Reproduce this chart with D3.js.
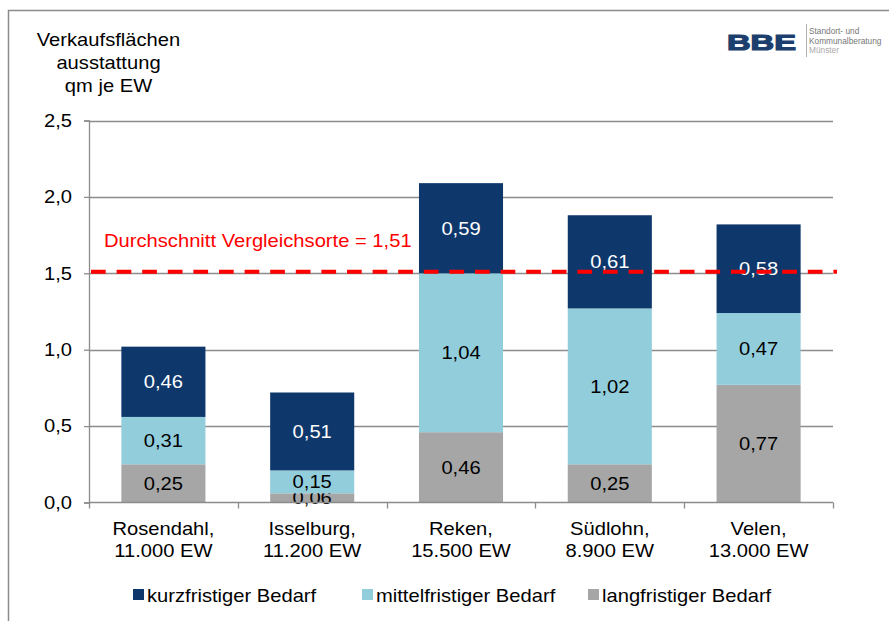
<!DOCTYPE html>
<html>
<head>
<meta charset="utf-8">
<script src="https://cdn.jsdelivr.net/npm/d3@7/dist/d3.min.js"></script>
<style>
  body { margin: 0; background: #fff; }
  text { font-family: "Liberation Sans", Arial, sans-serif; }
</style>
</head>
<body>
<script>
// categories (two line labels)
const orte = ["Rosendahl,|11.000 EW", "Isselburg,|11.200 EW", "Reken,|15.500 EW", "Südlohn,|8.900 EW", "Velen,|13.000 EW"];
const langfristig = [0.25, 0.06, 0.46, 0.25, 0.77];
const mittelfristig = [0.31, 0.15, 1.04, 1.02, 0.47];
const kurzfristig = [0.46, 0.51, 0.59, 0.61, 0.58];
const serien = ["langfristiger Bedarf", "mittelfristiger Bedarf", "kurzfristiger Bedarf"];
const legendeReihenfolge = ["kurzfristiger Bedarf", "mittelfristiger Bedarf", "langfristiger Bedarf"];
const yTicks = [0, 0.5, 1.0, 1.5, 2.0, 2.5];
const durchschnitt = 1.51;

const w = 889, h = 621;
const fs = 18, sx = 1.12;   // text in the reference is a bit stretched
const farben = {
  "langfristiger Bedarf": "#a6a6a6",
  "mittelfristiger Bedarf": "#92cddc",
  "kurzfristiger Bedarf": "#0e386c"
};
const textFarbe = {
  "langfristiger Bedarf": "#000",
  "mittelfristiger Bedarf": "#000",
  "kurzfristiger Bedarf": "#fff"
};

let svg = d3.select("body").append("svg")
  .attr("width", w).attr("height", h);

// helper: stretched text
function txt(g, x, y, s, anchor, farbe) {
  return g.append("text")
    .attr("transform", `translate(${x},${y}) scale(${sx},1)`)
    .attr("text-anchor", anchor || "start")
    .attr("font-size", fs)
    .attr("fill", farbe || "#000")
    .text(s);
}

// frame
svg.append("path")
  .attr("d", "M8.5,621 V10.5 H889")
  .attr("fill", "none").attr("stroke", "#8c8c8c").attr("stroke-width", 1.5);

const x0 = 89, x1 = 833, yTop = 120.5, yBot = 502.5;

let xScale = d3.scaleBand()
  .domain(d3.range(orte.length))
  .range([x0, x1])
  .paddingInner(0.435)
  .paddingOuter(0.2175);

let yScale = d3.scaleLinear()
  .domain([0, 2.5])
  .range([yBot, yTop]);

// gridlines
svg.append("g").selectAll("line")
  .data(yTicks.filter(d => d > 0))
  .enter().append("line")
  .attr("x1", x0).attr("x2", x1)
  .attr("y1", d => Math.round(yScale(d)) + 0.5)
  .attr("y2", d => Math.round(yScale(d)) + 0.5)
  .attr("stroke", "#8c8c8c").attr("stroke-width", 1.3);

// y axis
let yAxis = d3.axisLeft(yScale)
  .tickValues(yTicks)
  .tickSize(5)
  .tickPadding(10.2)
  .tickFormat(d => d3.format(".1f")(d).replace(".", ","));
let gy = svg.append("g").attr("transform", `translate(${x0},0)`).call(yAxis);
gy.select(".domain").attr("stroke", "#8c8c8c").attr("stroke-width", 1.3);
gy.selectAll(".tick line").attr("stroke", "#8c8c8c").attr("stroke-width", 1.3);
gy.selectAll(".tick text").attr("font-size", fs).attr("fill", "#000")
  .attr("transform", `scale(${sx},1)`)
  .style("font-family", '"Liberation Sans", Arial, sans-serif');

// stacked data
let tabelle = orte.map((o, i) => ({
  ort: i,
  "langfristiger Bedarf": langfristig[i],
  "mittelfristiger Bedarf": mittelfristig[i],
  "kurzfristiger Bedarf": kurzfristig[i]
}));
let stack = d3.stack().keys(serien)(tabelle);

let layers = svg.append("g").selectAll("g")
  .data(stack)
  .enter().append("g")
  .attr("fill", d => farben[d.key]);

layers.selectAll("rect")
  .data(d => d)
  .enter().append("rect")
  .attr("x", d => xScale(d.data.ort))
  .attr("width", xScale.bandwidth())
  .attr("y", d => yScale(d[1]))
  .attr("height", d => yScale(d[0]) - yScale(d[1]));

// x axis
let xAxis = d3.axisBottom(xScale).tickSize(0).tickFormat("");
let gx = svg.append("g").attr("transform", `translate(0,${yBot})`).call(xAxis);
gx.select(".domain").attr("stroke", "#8c8c8c").attr("stroke-width", 1.3).attr("d", `M${x0},0H${x1}`);
// category separators
let grenzen = d3.range(orte.length + 1).map(i => x0 + i * (x1 - x0) / orte.length);
gx.selectAll(".sep").data(grenzen).enter().append("line")
  .attr("x1", d => Math.round(d) + 0.5).attr("x2", d => Math.round(d) + 0.5)
  .attr("y1", 0).attr("y2", 6)
  .attr("stroke", "#8c8c8c").attr("stroke-width", 1.3);

// category labels
let katG = svg.append("g");
orte.forEach((d, i) => {
  d.split("|").forEach((zeile, k) => {
    txt(katG, xScale(i) + xScale.bandwidth() / 2, 534.5 + k * 22.5, zeile, "middle");
  });
});

// average line
svg.append("line")
  .attr("x1", x0 + 2).attr("x2", x1 + 4)
  .attr("y1", yScale(durchschnitt)).attr("y2", yScale(durchschnitt))
  .attr("stroke", "#ff0000").attr("stroke-width", 4)
  .attr("stroke-dasharray", "14.7,10.9");

// value labels
layers.each(function (s) {
  let g = d3.select(this);
  s.forEach(d => {
    txt(g, xScale(d.data.ort) + xScale.bandwidth() / 2, yScale((d[0] + d[1]) / 2) + 6.5,
      d3.format(".2f")(d[1] - d[0]).replace(".", ","), "middle", textFarbe[s.key]);
  });
});

txt(svg, 104, 246.5, "Durchschnitt Vergleichsorte = " + String(durchschnitt).replace(".", ","), "start", "#ff0000");

// y title
["Verkaufsflächen", "ausstattung", "qm je EW"].forEach((zeile, k) => {
  txt(svg, 108.5, 45.5 + k * 23, zeile, "middle");
});

// legend
const legX = [133, 362, 588];
legendeReihenfolge.forEach((d, i) => {
  svg.append("rect")
    .attr("x", legX[i]).attr("y", 589).attr("width", 11).attr("height", 11)
    .attr("fill", farben[d]);
  txt(svg, legX[i] + 14, 602, d);
});

// logo
svg.append("text")
  .attr("x", 727).attr("y", 49.5)
  .attr("font-family", '"DejaVu Sans", sans-serif')
  .attr("font-size", 22.5).attr("font-weight", "bold")
  .attr("fill", "#1d3f6e").attr("stroke", "#1d3f6e").attr("stroke-width", 1.2)
  .attr("textLength", 69)
  .attr("lengthAdjust", "spacingAndGlyphs")
  .text("BBE");
svg.append("line")
  .attr("x1", 806.5).attr("x2", 806.5).attr("y1", 24).attr("y2", 57)
  .attr("stroke", "#b0b0b0").attr("stroke-width", 1);
[["Standort- und", "#777"], ["Kommunalberatung", "#777"], ["Münster", "#aaa"]].forEach((z, k) => {
  svg.append("text")
    .attr("x", 809).attr("y", 34 + k * 9.5)
    .attr("font-size", 8.3).attr("fill", z[1])
    .text(z[0]);
});
</script>
</body>
</html>
